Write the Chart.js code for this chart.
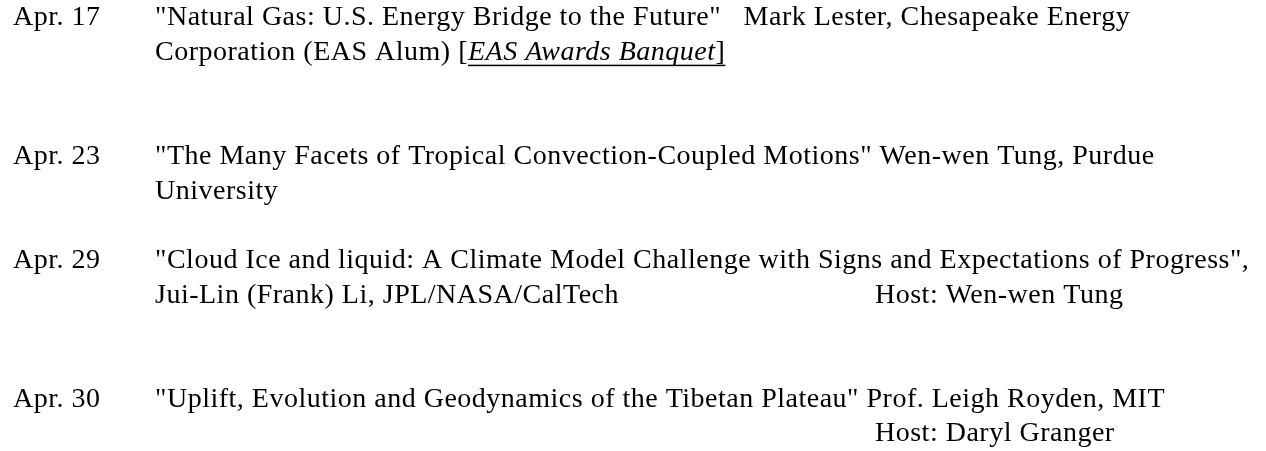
<!DOCTYPE html>
<html>
<head>
<meta charset="utf-8">
<script src="https://cdn.jsdelivr.net/npm/chart.js@4.4.0/dist/chart.umd.min.js"></script>
<style>
  html, body { margin: 0; padding: 0; background: #ffffff; }
  #wrap { width: 1266px; height: 451px; position: relative; }
</style>
</head>
<body>
<div id="wrap"><canvas id="c" width="1266" height="451"></canvas></div>
<script>
// ---- data (one entry per text line of the schedule) ----
const rowDates = ["Apr. 17", "", "", "", "Apr. 23", "", "", "Apr. 29", "", "", "", "Apr. 30", ""];
const rowText = [
  '"Natural Gas: U.S. Energy Bridge to the Future"   Mark Lester, Chesapeake Energy',
  'Corporation (EAS Alum) ',
  '',
  '',
  '"The Many Facets of Tropical Convection-Coupled Motions" Wen-wen Tung, Purdue',
  'University',
  '',
  '"Cloud Ice and liquid: A Climate Model Challenge with Signs and Expectations of Progress",',
  'Jui-Lin (Frank) Li, JPL/NASA/CalTech',
  '',
  '',
  '"Uplift, Evolution and Geodynamics of the Tibetan Plateau" Prof. Leigh Royden, MIT',
  ''
];
const rowEvent = ["", "EAS Awards Banquet", "", "", "", "", "", "", "", "", "", "", ""];
const rowHost = ["", "", "", "", "", "", "", "", "Host: Wen-wen Tung", "", "", "", "Host: Daryl Granger"];

// ---- layout / style ----
const FONT = "Liberation Serif, 'Times New Roman', serif";
const SIZE = 28;
const SPACING = '0.5px';
const HOST_TAB = 720;       // x-scale units from text column start
const TEXT_COL = 155;       // px where description column begins

const spacingPlugin = {
  id: 'letterSpacing',
  beforeDraw(chart) { chart.ctx.letterSpacing = SPACING; }
};

const textPlugin = {
  id: 'scheduleText',
  afterDraw(chart) {
    const ctx = chart.ctx;
    const xs = chart.scales.x, ys = chart.scales.y;
    ctx.save();
    ctx.letterSpacing = SPACING;
    ctx.fillStyle = '#000';
    ctx.textBaseline = 'middle';
    ctx.textAlign = 'left';
    for (let i = 0; i < rowText.length; i++) {
      const y = ys.getPixelForValue(i);
      let x = xs.getPixelForValue(0);
      ctx.font = `${SIZE}px ${FONT}`;
      if (rowText[i]) {
        ctx.fillText(rowText[i], x, y);
        x += ctx.measureText(rowText[i]).width;
      }
      if (rowEvent[i]) {
        ctx.fillText('[', x, y);
        x += ctx.measureText('[').width;
        const x0 = x;
        ctx.font = `italic ${SIZE}px ${FONT}`;
        ctx.fillText(rowEvent[i], x, y);
        x += ctx.measureText(rowEvent[i]).width;
        ctx.font = `${SIZE}px ${FONT}`;
        ctx.fillText(']', x, y);
        x += ctx.measureText(']').width;
        ctx.fillRect(x0, y + 12, x - x0, 1.5);
      }
      if (rowHost[i]) {
        ctx.font = `${SIZE}px ${FONT}`;
        ctx.fillText(rowHost[i], xs.getPixelForValue(HOST_TAB), y);
      }
    }
    ctx.restore();
  }
};

new Chart(document.getElementById('c'), {
  type: 'line',
  data: { labels: rowDates, datasets: [] },
  options: {
    responsive: false,
    animation: false,
    events: [],
    layout: { padding: { left: 13, right: 0, top: 18, bottom: 17 } },
    plugins: { legend: { display: false }, tooltip: { enabled: false }, title: { display: false } },
    scales: {
      x: { type: 'linear', min: 0, max: 1111, display: false },
      y: {
        type: 'category',
        offset: false,
        grid: { display: false, drawTicks: false },
        border: { display: false },
        afterFit(scale) { scale.width = TEXT_COL - 13; },
        ticks: {
          autoSkip: false,
          crossAlign: 'far',
          padding: 0,
          color: '#000',
          font: { family: FONT, size: SIZE }
        }
      }
    }
  },
  plugins: [spacingPlugin, textPlugin]
});
</script>
</body>
</html>
